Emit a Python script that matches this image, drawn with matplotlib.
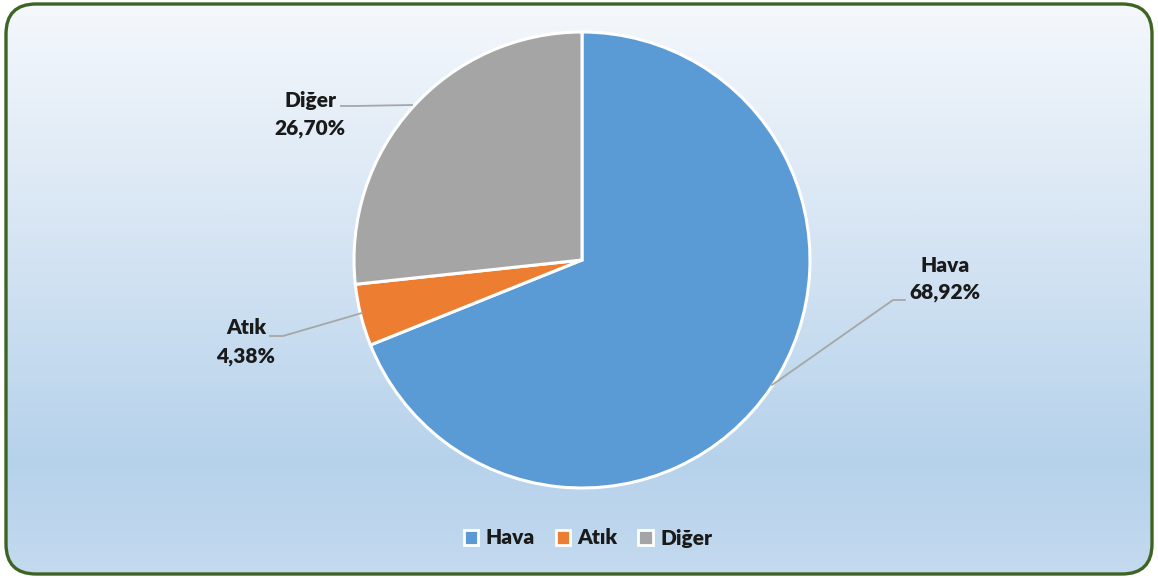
import numpy as np
import matplotlib
matplotlib.use("Agg")
import matplotlib.pyplot as plt
from matplotlib.patches import FancyBboxPatch, Patch
from matplotlib.colors import LinearSegmentedColormap

# data
labels = ["Hava", "Atık", "Diğer"]
values = [68.92, 4.38, 26.70]
colors = ["#5b9bd5", "#ed7d31", "#a5a5a5"]
value_texts = ["68,92%", "4,38%", "26,70%"]

W, H = 1158, 578
plt.rcParams['font.family'] = ['Lato', 'DejaVu Sans']

fig = plt.figure(figsize=(W / 100, H / 100), dpi=100)
ax = fig.add_axes([0, 0, 1, 1])
ax.set_xlim(0, W)
ax.set_ylim(0, H)
ax.set_aspect('equal')
ax.axis('off')

# rounded frame with vertical gradient
box = FancyBboxPatch((6, 4), W - 12, H - 8, boxstyle="round,pad=0,rounding_size=30",
                     facecolor='none', edgecolor='#3e6424', linewidth=2.4, zorder=5)
ax.add_patch(box)
cmap = LinearSegmentedColormap.from_list(
    "bg", [(0.0, "#c4daef"), (0.2, "#b6d2eb"), (0.55, "#d3e3f3"), (1.0, "#f5f8fc")])
grad = np.linspace(0, 1, 256).reshape(-1, 1)
img = ax.imshow(grad, cmap=cmap, extent=[0, W, 0, H], origin='lower', aspect='auto', zorder=0)
img.set_clip_path(box)

# pie
cx, cy, r = 582, H - 260, 228
wedges, _ = ax.pie(values, colors=colors, startangle=90, counterclock=False,
                   center=(cx, cy), radius=r, frame=True,
                   wedgeprops=dict(edgecolor='white', linewidth=2.2))
ax.set_xlim(0, W)
ax.set_ylim(0, H)
ax.axis('off')

# data labels with leader lines (pixel positions from top)
label_pos = {
    "Hava": (945, 265, [(772, 385), (893, 300), (905, 300)]),
    "Atık": (246, 328, [(362, 313), (283, 336), (270, 336)]),
    "Diğer": (310, 100, [(412, 105), (354, 106), (341, 106)]),
}
for name, vt in zip(labels, value_texts):
    tx, ty, pts = label_pos[name]
    xs = [p[0] for p in pts]
    ys = [H - p[1] for p in pts]
    ax.plot(xs, ys, color='#a6a6a6', linewidth=1.3, zorder=3)
    ax.text(tx, H - ty, name, ha='center', va='center', fontsize=15,
            fontweight='heavy', color='#1a1a1a', zorder=4)
    ax.text(tx, H - ty - 28, vt, ha='center', va='center', fontsize=15,
            fontweight='heavy', color='#1a1a1a', zorder=4)

# legend
handles = [Patch(facecolor=c, edgecolor='white', linewidth=2, label=l)
           for c, l in zip(colors, labels)]
leg = ax.legend(handles=handles, loc='center', bbox_to_anchor=(588 / W, 1 - 538 / H),
                ncol=3, frameon=False, fontsize=15, handlelength=0.7, handleheight=0.7,
                handletextpad=0.35, columnspacing=1.0, borderpad=0)
for t in leg.get_texts():
    t.set_fontweight('heavy')
    t.set_color('#1a1a1a')

fig.savefig("out.png", dpi=100)
